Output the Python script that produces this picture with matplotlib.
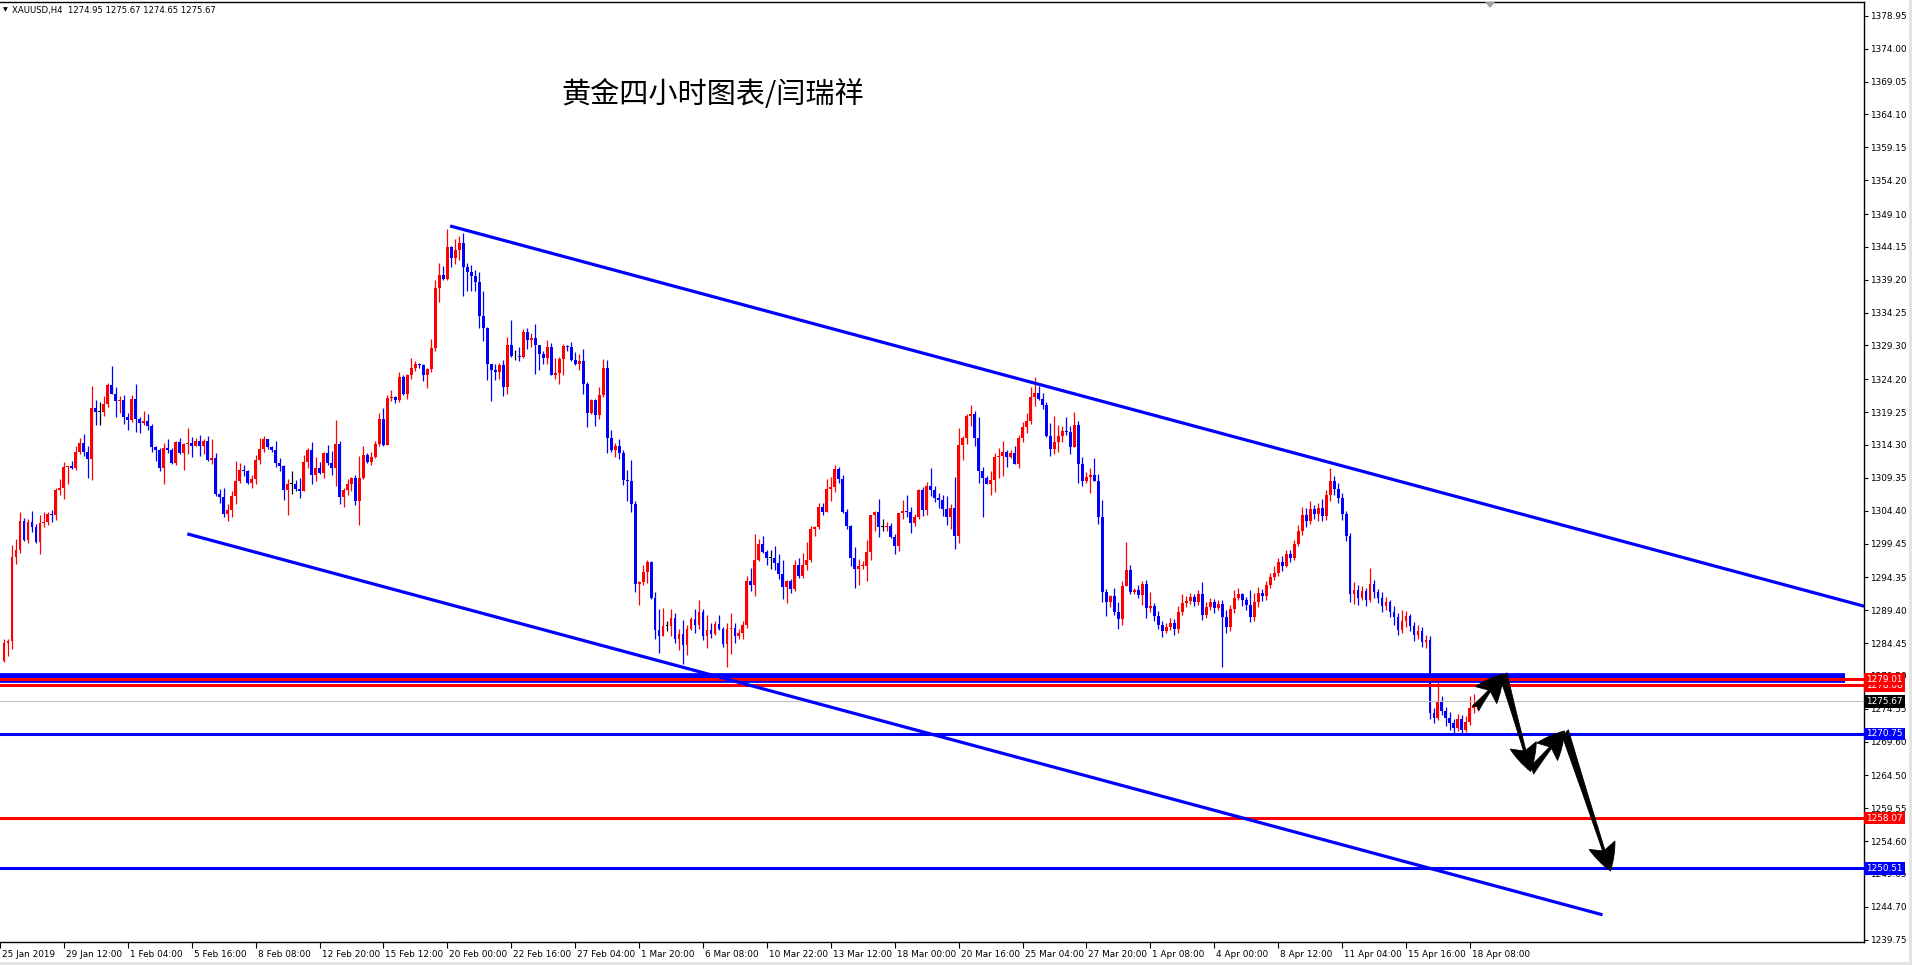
import matplotlib
matplotlib.use("Agg")
import matplotlib.pyplot as plt
from matplotlib.transforms import ScaledTranslation, blended_transform_factory
from matplotlib.patches import Rectangle, Polygon
import numpy as np

plt.rcParams['font.family'] = ['DejaVu Sans']

# XAUUSD H4 candles (open of each bar = close of the previous bar)
first_open = 1281.73
closes = [
    1284.53, 1284.73, 1297.39, 1298.53, 1302.89, 1299.98, 1302.68, 1301.90, 1299.62, 1302.58,
    1302.68, 1303.93, 1303.72, 1307.56, 1307.87, 1311.03, 1311.08, 1310.77, 1313.26, 1314.61,
    1313.21, 1312.12, 1319.90, 1319.28, 1319.28, 1320.52, 1323.38, 1322.03, 1320.89, 1321.15,
    1318.45, 1318.09, 1321.25, 1318.14, 1317.57, 1317.88, 1317.10, 1313.94, 1313.47, 1310.77,
    1313.88, 1313.47, 1311.60, 1314.77, 1313.05, 1314.45, 1314.61, 1314.20, 1314.92, 1314.20,
    1314.92, 1312.07, 1312.28, 1306.88, 1306.52, 1303.93, 1304.55, 1306.67, 1308.90, 1310.56,
    1310.31, 1308.54, 1309.22, 1312.07, 1313.73, 1315.13, 1313.99, 1313.57, 1311.65, 1311.19,
    1307.56, 1308.44, 1308.44, 1307.71, 1307.40, 1311.76, 1313.57, 1309.73, 1310.88, 1310.10,
    1313.11, 1311.60, 1310.88, 1314.51, 1306.52, 1307.56, 1308.39, 1309.37, 1305.90, 1309.37,
    1312.79, 1311.76, 1312.54, 1314.51, 1318.24, 1314.35, 1321.40, 1321.56, 1321.04, 1324.52,
    1322.03, 1324.88, 1325.92, 1326.54, 1326.38, 1324.78, 1325.81, 1328.93, 1338.00, 1339.92,
    1339.30, 1344.17, 1342.41, 1343.71, 1344.74, 1341.06, 1340.39, 1339.82, 1338.88, 1333.80,
    1331.99, 1326.44, 1325.66, 1325.24, 1326.38, 1322.96, 1329.39, 1327.63, 1327.63, 1327.58,
    1331.36, 1330.17, 1330.43, 1329.29, 1327.94, 1327.42, 1329.03, 1324.88, 1325.19, 1327.32,
    1329.24, 1329.13, 1327.11, 1326.54, 1327.01, 1323.43, 1319.07, 1321.09, 1318.76, 1321.87,
    1325.92, 1315.28, 1313.57, 1314.14, 1313.05, 1308.96, 1308.80, 1305.43, 1293.34, 1293.60,
    1295.21, 1296.72, 1291.17, 1286.39, 1285.46, 1287.02, 1287.02, 1288.26, 1284.99, 1285.88,
    1284.11, 1286.60, 1288.00, 1287.12, 1289.20, 1285.51, 1286.39, 1285.77, 1287.28, 1286.50,
    1284.27, 1286.60, 1286.76, 1285.51, 1286.03, 1287.12, 1293.76, 1293.14, 1297.03, 1299.31,
    1298.17, 1297.23, 1297.23, 1296.46, 1294.80, 1292.83, 1293.86, 1292.57, 1296.25, 1294.59,
    1296.25, 1297.03, 1301.69, 1302.01, 1305.02, 1304.24, 1307.71, 1308.02, 1310.72, 1309.22,
    1304.13, 1302.16, 1297.34, 1295.58, 1295.99, 1296.09, 1298.17, 1303.72, 1304.24, 1301.90,
    1301.90, 1302.16, 1300.50, 1299.00, 1304.08, 1304.39, 1304.24, 1302.58, 1303.51, 1307.56,
    1304.55, 1308.18, 1307.56, 1306.31, 1306.05, 1304.70, 1303.41, 1304.86, 1300.55, 1314.35,
    1315.39, 1318.71, 1319.02, 1315.28, 1310.41, 1309.27, 1308.49, 1309.06, 1312.54, 1312.69,
    1313.26, 1312.43, 1313.11, 1311.50, 1315.39, 1317.05, 1317.93, 1321.56, 1322.18, 1321.25,
    1320.37, 1315.70, 1313.73, 1314.77, 1315.70, 1316.43, 1316.32, 1313.94, 1317.36, 1311.50,
    1308.90, 1309.42, 1309.84, 1308.90, 1303.41, 1292.20, 1290.60, 1291.53, 1289.20, 1288.05,
    1293.08, 1295.52, 1292.10, 1292.41, 1291.69, 1293.40, 1289.66, 1290.03,
    1288.6, 1287.2, 1286.3, 1286.8, 1287.5, 1286.6, 1289.2, 1290.5, 1290.8, 1291.4,
    1290.6, 1291.8, 1288.7, 1289.9, 1290.7, 1289.8, 1290.4, 1288.3, 1286.9, 1289.6,
    1291.3, 1291.8, 1290.9, 1290.2, 1288.4, 1290.6, 1292.0, 1291.5, 1293.2, 1294.4,
    1295.0, 1296.6, 1296.1, 1297.8, 1297.3, 1299.4, 1301.3, 1303.8, 1302.9, 1304.6,
    1303.9, 1304.8, 1303.6, 1306.7, 1308.9, 1307.6, 1306.3, 1303.9, 1300.6, 1291.8,
    1292.5, 1291.3, 1292.3, 1291.0, 1293.4, 1292.1, 1291.3, 1290.0, 1290.6, 1289.1,
    1288.4, 1286.4, 1287.8, 1288.5, 1287.0, 1285.6, 1286.2, 1284.6, 1284.9, 1273.9,
    1273.2, 1275.5, 1274.2, 1273.1, 1272.4, 1271.6, 1273.0, 1271.4, 1272.6, 1274.6,
    1274.95, 1275.67,
]
highs = [
    1285.05, 1285.05, 1299.15, 1300.19, 1304.24, 1303.30, 1303.20, 1304.39, 1302.37, 1303.72,
    1304.24, 1304.24, 1304.55, 1307.76, 1309.22, 1311.76, 1311.19, 1311.91, 1314.20, 1315.39,
    1316.01, 1314.20, 1323.22, 1321.09, 1320.78, 1321.72, 1323.69, 1326.23, 1323.06, 1321.72,
    1321.87, 1319.17, 1321.87, 1323.53, 1318.55, 1319.43, 1319.02, 1317.51, 1314.20, 1313.78,
    1314.61, 1315.23, 1313.78, 1314.87, 1315.39, 1314.61, 1316.79, 1315.54, 1315.39, 1315.86,
    1315.23, 1315.70, 1315.23, 1313.11, 1307.71, 1307.87, 1305.43, 1307.40, 1311.91, 1311.60,
    1311.34, 1310.56, 1309.73, 1312.79, 1315.39, 1315.70, 1315.23, 1314.20, 1314.92, 1312.38,
    1311.34, 1309.22, 1310.41, 1309.06, 1309.37, 1312.79, 1313.88, 1314.77, 1312.54, 1311.76,
    1313.21, 1314.35, 1313.42, 1318.09, 1314.92, 1307.87, 1309.22, 1309.47, 1309.84, 1312.69,
    1314.20, 1313.11, 1313.26, 1314.92, 1319.17, 1319.90, 1321.87, 1322.60, 1321.72, 1325.35,
    1324.78, 1324.98, 1327.37, 1326.90, 1326.64, 1326.54, 1325.92, 1330.27, 1339.20, 1341.74,
    1341.27, 1346.77, 1344.33, 1345.37, 1345.83, 1346.30, 1341.74, 1341.37, 1340.70, 1340.39,
    1337.43, 1332.09, 1326.54, 1326.54, 1326.70, 1327.06, 1330.59, 1333.18, 1328.67, 1329.13,
    1331.73, 1331.99, 1331.21, 1332.56, 1329.39, 1328.41, 1330.17, 1329.70, 1327.47, 1327.58,
    1329.55, 1329.39, 1329.86, 1328.35, 1327.99, 1328.77, 1323.84, 1321.30, 1321.30, 1323.06,
    1327.27, 1327.06, 1316.58, 1314.61, 1315.23, 1313.57, 1310.56, 1312.07, 1305.90, 1293.86,
    1296.25, 1297.03, 1296.87, 1292.10, 1289.61, 1289.77, 1287.74, 1289.61, 1289.04, 1286.60,
    1287.90, 1287.12, 1288.42, 1289.51, 1291.01, 1289.51, 1288.63, 1287.54, 1287.74, 1288.63,
    1286.91, 1287.54, 1289.04, 1287.54, 1286.50, 1287.74, 1294.49, 1295.83, 1300.81, 1300.19,
    1300.61, 1298.43, 1298.43, 1299.10, 1297.81, 1297.03, 1293.96, 1294.17, 1297.03, 1297.34,
    1297.96, 1299.72, 1302.16, 1302.16, 1305.53, 1305.48, 1309.22, 1309.42, 1311.29, 1311.03,
    1309.84, 1304.70, 1302.27, 1298.95, 1297.13, 1296.77, 1300.04, 1303.82, 1304.39, 1306.21,
    1303.20, 1302.63, 1302.58, 1300.92, 1304.08, 1306.05, 1306.78, 1305.02, 1303.93, 1307.66,
    1307.97, 1308.70, 1310.88, 1308.18, 1307.04, 1306.78, 1306.67, 1305.43, 1309.53, 1316.89,
    1315.60, 1319.02, 1320.37, 1319.43, 1318.55, 1311.03, 1309.58, 1310.41, 1313.11, 1313.88,
    1314.92, 1313.57, 1313.57, 1314.20, 1315.86, 1317.77, 1319.17, 1323.06, 1324.57, 1323.22,
    1322.18, 1320.73, 1317.62, 1318.71, 1317.36, 1317.20, 1318.55, 1317.20, 1319.28, 1317.93,
    1312.54, 1310.25, 1310.88, 1312.38, 1309.94, 1306.05, 1292.62, 1291.69, 1292.67, 1290.60,
    1293.86, 1299.72, 1296.25, 1292.72, 1293.24, 1293.86, 1294.02, 1292.20,
    1290.5, 1289.3, 1287.8, 1287.5, 1288.2, 1288.0, 1290.0, 1291.8, 1291.6, 1292.0,
    1291.9, 1292.5, 1293.6, 1290.7, 1291.3, 1291.1, 1291.0, 1290.9, 1289.4, 1290.2,
    1292.4, 1292.7, 1292.0, 1291.4, 1292.5, 1292.0, 1292.9, 1292.6, 1293.8, 1295.0,
    1296.1, 1297.3, 1297.5, 1298.5, 1298.4, 1300.0, 1302.3, 1305.0, 1304.8, 1305.8,
    1305.2, 1305.6, 1306.1, 1307.5, 1310.9, 1309.6, 1308.5, 1307.1, 1304.4, 1301.1,
    1293.6, 1293.2, 1293.0, 1292.8, 1295.8, 1294.0, 1292.6, 1292.1, 1291.4, 1291.0,
    1290.0, 1289.0, 1289.5, 1289.3, 1288.9, 1287.6, 1287.2, 1286.8, 1285.7, 1285.5,
    1274.6, 1279.0, 1276.4, 1274.8, 1274.1, 1273.0, 1273.7, 1273.6, 1273.5, 1276.4,
    1276.8, 1275.67,
]
lows = [
    1281.57, 1282.45, 1283.49, 1296.35, 1298.01, 1299.88, 1299.46, 1301.12, 1299.50, 1297.81,
    1301.90, 1302.27, 1302.63, 1302.94, 1306.73, 1306.10, 1308.39, 1310.67, 1310.46, 1313.00,
    1312.69, 1309.27, 1308.96, 1317.26, 1317.36, 1318.60, 1319.95, 1321.92, 1318.55, 1319.07,
    1317.41, 1316.48, 1317.72, 1316.22, 1316.06, 1317.36, 1316.48, 1313.31, 1311.81, 1310.31,
    1308.44, 1313.05, 1311.50, 1311.24, 1312.95, 1310.56, 1312.95, 1312.54, 1314.09, 1312.69,
    1312.95, 1311.91, 1311.50, 1306.67, 1305.58, 1303.41, 1302.89, 1303.41, 1305.43, 1308.54,
    1309.58, 1308.39, 1307.87, 1308.39, 1311.45, 1313.21, 1313.73, 1313.26, 1311.03, 1310.41,
    1306.05, 1303.67, 1306.93, 1307.40, 1306.36, 1307.40, 1310.77, 1308.39, 1308.85, 1309.94,
    1309.27, 1311.34, 1309.73, 1308.07, 1305.43, 1304.91, 1306.73, 1307.30, 1305.22, 1302.27,
    1309.22, 1311.60, 1311.34, 1312.38, 1314.14, 1314.09, 1314.35, 1320.94, 1320.58, 1320.73,
    1321.77, 1321.30, 1324.26, 1325.40, 1325.92, 1324.00, 1322.81, 1325.24, 1328.51, 1335.77,
    1339.14, 1339.14, 1341.11, 1341.58, 1342.10, 1336.81, 1337.43, 1337.43, 1337.43, 1331.99,
    1329.91, 1324.10, 1320.99, 1324.05, 1324.26, 1321.61, 1322.03, 1327.53, 1327.11, 1326.90,
    1327.42, 1328.77, 1329.03, 1325.04, 1325.55, 1326.44, 1326.54, 1324.78, 1324.26, 1323.43,
    1324.88, 1328.51, 1326.95, 1326.28, 1325.55, 1322.03, 1316.94, 1318.92, 1317.10, 1318.14,
    1321.51, 1313.05, 1313.21, 1312.54, 1312.17, 1308.28, 1305.90, 1304.13, 1292.10, 1290.13,
    1293.14, 1293.50, 1291.07, 1284.99, 1282.97, 1285.46, 1286.19, 1285.46, 1284.42, 1283.39,
    1281.31, 1282.61, 1286.39, 1285.98, 1286.50, 1284.89, 1283.65, 1285.20, 1285.67, 1286.39,
    1283.90, 1280.79, 1282.76, 1284.42, 1284.99, 1284.99, 1286.76, 1292.26, 1291.48, 1296.87,
    1298.01, 1296.15, 1295.58, 1295.42, 1294.07, 1291.06, 1290.44, 1291.94, 1292.31, 1294.28,
    1294.28, 1295.52, 1296.72, 1300.61, 1301.69, 1303.72, 1304.24, 1305.90, 1307.24, 1308.59,
    1304.03, 1301.69, 1295.99, 1292.72, 1293.14, 1295.58, 1293.86, 1297.03, 1301.38, 1300.50,
    1301.28, 1301.28, 1300.35, 1297.91, 1298.32, 1303.20, 1303.51, 1301.07, 1302.11, 1303.20,
    1303.61, 1303.72, 1306.67, 1305.74, 1304.86, 1303.61, 1302.27, 1301.59, 1298.69, 1299.57,
    1312.07, 1314.51, 1317.20, 1314.20, 1308.59, 1303.41, 1308.39, 1306.73, 1307.24, 1309.27,
    1309.58, 1311.03, 1312.28, 1311.45, 1310.88, 1314.77, 1316.06, 1317.51, 1320.11, 1321.09,
    1319.75, 1315.54, 1312.69, 1312.90, 1313.21, 1314.77, 1315.86, 1312.90, 1313.94, 1308.59,
    1308.07, 1308.59, 1307.09, 1308.80, 1302.42, 1290.60, 1288.57, 1289.92, 1288.73, 1286.60,
    1287.12, 1292.98, 1291.89, 1291.79, 1291.27, 1290.23, 1288.16, 1289.09,
    1287.8, 1286.5, 1285.4, 1285.9, 1286.4, 1285.6, 1285.9, 1288.7, 1289.9, 1290.3,
    1290.0, 1290.2, 1287.9, 1288.2, 1289.5, 1289.0, 1289.4, 1280.8, 1286.0, 1286.3,
    1289.0, 1290.9, 1290.1, 1289.5, 1287.6, 1287.8, 1289.9, 1290.8, 1291.0, 1292.7,
    1293.9, 1294.5, 1295.3, 1295.9, 1296.6, 1296.9, 1299.0, 1300.7, 1302.0, 1302.4,
    1303.1, 1302.8, 1302.9, 1303.0, 1305.8, 1306.7, 1305.5, 1303.0, 1299.8, 1290.6,
    1290.4, 1290.2, 1290.9, 1290.1, 1290.6, 1291.3, 1290.5, 1289.2, 1289.5, 1288.4,
    1287.2, 1285.6, 1286.0, 1286.9, 1286.2, 1284.8, 1285.0, 1283.9, 1283.7, 1273.0,
    1272.4, 1272.8, 1273.6, 1272.0, 1271.4, 1270.9, 1271.2, 1270.8, 1271.0, 1272.1,
    1273.9, 1274.65,
]

date_labels = [
    "25 Jan 2019", "29 Jan 12:00", "1 Feb 04:00", "5 Feb 16:00", "8 Feb 08:00",
    "12 Feb 20:00", "15 Feb 12:00", "20 Feb 00:00", "22 Feb 16:00", "27 Feb 04:00",
    "1 Mar 20:00", "6 Mar 08:00", "10 Mar 22:00", "13 Mar 12:00", "18 Mar 00:00",
    "20 Mar 16:00", "25 Mar 04:00", "27 Mar 20:00", "1 Apr 08:00", "4 Apr 00:00",
    "8 Apr 12:00", "11 Apr 04:00", "15 Apr 16:00", "18 Apr 08:00",
]
price_ticks = [
    1378.95, 1374.00, 1369.05, 1364.10, 1359.15, 1354.20, 1349.10, 1344.15, 1339.20,
    1334.25, 1329.30, 1324.20, 1319.25, 1314.30, 1309.35, 1304.40, 1299.45, 1294.35,
    1289.40, 1284.45, 1279.50, 1274.55, 1269.60, 1264.50, 1259.55, 1254.60, 1249.65,
    1244.70, 1239.75,
]

# horizontal levels with price labels
levels = [1278.08, 1279.01, 1270.75, 1258.07, 1250.51]
level_colors = ['#FF0000', '#FF0000', '#0000FF', '#FF0000', '#0000FF']
bid = 1275.67
zone_level = 1279.25      # thick blue horizontal segment
zone_end_bar = 460.9

# channel lines: (bar index, price) end points
upper_x, upper_y = [111.7, 465.7], [1347.3, 1290.0]
lower_x, lower_y = [45.9, 400.2], [1300.9, 1243.5]

# forecast arrows, drawn point to point
arrow_x = [368.4, 375.3, 382.2, 390.7, 402.2]
arrow_y = [1274.6, 1279.8, 1265.1, 1271.2, 1250.1]

W, H = 1912, 965
fig = plt.figure(figsize=(W / 100, H / 100), dpi=100)
fig.patch.set_facecolor('white')
ax = fig.add_axes([0, 1 - 942 / H, 1864 / W, 940 / H])

n = len(closes)
x = np.arange(n)
c = np.array(closes)
o = np.r_[first_open, c[:-1]]
hi = np.maximum(np.array(highs), np.maximum(o, c))
lo = np.minimum(np.array(lows), np.minimum(o, c))
cols = np.where(c > o + 0.005, '#FF0000', np.where(c < o - 0.005, '#0000FF', '#000000'))

ax.vlines(x, lo, hi, colors=cols, lw=0.9, zorder=2)
body = np.maximum(np.abs(c - o), 0.15)
ax.bar(x, body, bottom=np.minimum(o, c), width=0.72, color=cols, linewidth=0, zorder=3)

# levels
ax.axhline(bid, color='#C0C0C0', lw=0.8, zorder=4)
ax.plot([-1, zone_end_bar], [zone_level, zone_level], color='#0000FF', lw=7.0,
        solid_capstyle='butt', zorder=5)
for p, col in zip(levels, level_colors):
    ax.axhline(p, color=col, lw=2.2, zorder=6)

ax.plot(upper_x, upper_y, color='#0000FF', lw=2.3, solid_capstyle='butt', zorder=6)
ax.plot(lower_x, lower_y, color='#0000FF', lw=2.3, solid_capstyle='butt', zorder=6)

for i in range(len(arrow_x) - 1):
    ax.annotate('', xy=(arrow_x[i + 1], arrow_y[i + 1]), xytext=(arrow_x[i], arrow_y[i]),
                arrowprops=dict(arrowstyle='fancy,head_length=0.75,head_width=0.75,tail_width=0.22',
                                color='black', lw=0.6, shrinkA=0, shrinkB=0,
                                mutation_scale=26),
                zorder=8)

ax.set_xlim(-1 / 3, 465.67)
ax.set_ylim(1239.4, 1381.05)

# axes styling like the terminal chart
ax.spines['left'].set_visible(False)
for s in ['top', 'right', 'bottom']:
    ax.spines[s].set_color('black')
    ax.spines[s].set_linewidth(1.0)

ax.yaxis.tick_right()
ax.set_yticks(price_ticks)
ax.set_yticklabels([f'{p:.2f}' for p in price_ticks])
ax.tick_params(axis='y', direction='out', length=3, width=0.8, pad=1.5, labelsize=6.4, colors='black')

tick_pos = [-1 + 16 * i for i in range(len(date_labels))]
ax.set_xticks(tick_pos)
ax.set_xticklabels(date_labels)
ax.tick_params(axis='x', direction='out', length=4, width=0.8, pad=1.5, labelsize=6.4, colors='black')
offset = ScaledTranslation(2 / 100, 0, fig.dpi_scale_trans)
for lab in ax.get_xticklabels():
    lab.set_ha('left')
    lab.set_transform(lab.get_transform() + offset)

# price labels on the scale
trans = blended_transform_factory(ax.transAxes, ax.transData)
for p, col in zip(levels, level_colors):
    ax.text(1.0012, p, f'{p:.2f}', transform=trans, ha='left', va='center', fontsize=6.4,
            color='white', clip_on=False, zorder=20,
            bbox=dict(boxstyle='square,pad=0.2', fc=col, ec='none'))
ax.text(1.0012, bid, f'{bid:.2f}', transform=trans, ha='left', va='center', fontsize=6.4,
        color='white', clip_on=False, zorder=20,
        bbox=dict(boxstyle='square,pad=0.2', fc='black', ec='none'))

# header and title
fig.text(3 / W, 1 - 10 / H, '\u25BC', fontsize=4.5, va='center', ha='left')
fig.text(12 / W, 1 - 10 / H, 'XAUUSD,H4  1274.95 1275.67 1274.65 1275.67', fontsize=6.1,
         va='center', ha='left')
fig.text(561 / W, 1 - 95 / H, '黄金四小时图表/闫瑞祥', fontsize=21,
         family=['Noto Sans CJK SC', 'DejaVu Sans'], va='center', ha='left')

# chart shift marker and window border
fig.add_artist(Polygon([[1485 / W, 1 - 2 / H], [1495 / W, 1 - 2 / H], [1490 / W, 1 - 8 / H]],
                       closed=True, fc='#A0A0A0', ec='none', transform=fig.transFigure))
fig.add_artist(Rectangle((1909 / W, 0), 3 / W, 1, fc='#E3E3E3', ec='none', transform=fig.transFigure))
fig.add_artist(Rectangle((0, 0), 1, 3 / H, fc='#E3E3E3', ec='none', transform=fig.transFigure))

fig.savefig('out.png', dpi=100)
